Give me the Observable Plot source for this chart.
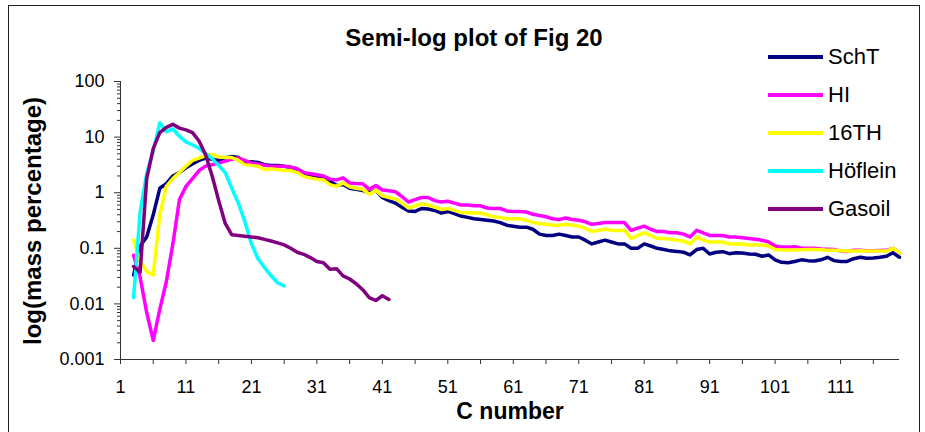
<!DOCTYPE html>
<html>
<head>
<meta charset="utf-8">
<script src="https://cdn.jsdelivr.net/npm/d3@7"></script>
<script src="https://cdn.jsdelivr.net/npm/@observablehq/plot@0.6"></script>
<style>
  html, body { margin: 0; padding: 0; background: #fff; }
  #wrap { position: relative; width: 925px; height: 432px; overflow: hidden; background: #fff;
          font-family: "Liberation Sans", Arial, sans-serif; color: #000; }
  #frame { position: absolute; left: 8px; top: 5px; width: 912px; height: 460px; border: 1px solid #222; box-sizing: border-box; }
  #chart { position: absolute; left: 0; top: 0; }
  .abs { position: absolute; white-space: nowrap; line-height: 1; }
  #title { left: 474px; top: 38px; transform: translate(-50%, -50%); font-weight: bold; font-size: 24px; }
  #ytitle { left: 33px; top: 221px; transform: translate(-50%, -50%) rotate(-90deg); font-weight: bold; font-size: 24px; }
  #xtitle { left: 510px; top: 411px; transform: translate(-50%, -50%); font-weight: bold; font-size: 23px; }
  .leg { position: absolute; left: 768px; height: 30px; display: flex; align-items: center; }
  .leg .sw { width: 55px; height: 3.5px; margin-right: 5px; }
  .leg .lb { font-size: 22px; line-height: 1; }
</style>
</head>
<body>
<div id="wrap">
  <div id="frame"></div>
  <div id="chart"></div>
  <div id="title" class="abs">Semi-log plot of Fig 20</div>
  <div id="ytitle" class="abs">log(mass percentage)</div>
  <div id="xtitle" class="abs">C number</div>
  <div id="legend"></div>
</div>
<script>
// ---- data (C number starts at 3 for every series) ----
const firstC = 3;
const seriesNames = ["SchT", "HI", "16TH", "Höflein", "Gasoil"];
const seriesColors = ["#000080", "#ff00ff", "#ffff00", "#00ffff", "#800080"];

const schT = [
  0.033, 0.11, 0.16, 0.4, 1.2, 1.45, 2.0, 2.3, 2.8, 3.3, 3.8, 4.2, 4.0, 3.8, 4.2, 4.5, 4.3, 3.5, 3.6, 3.5,
  3.2, 3.1, 3.1, 3.0, 2.8, 2.6, 2.2, 2.0, 1.9, 1.85, 1.6, 1.35, 1.4, 1.2, 1.15, 1.1, 0.98, 1.1, 0.82, 0.72,
  0.65, 0.55, 0.47, 0.46, 0.52, 0.51, 0.48, 0.43, 0.46, 0.42, 0.38, 0.36, 0.34, 0.33, 0.32, 0.31, 0.29, 0.26, 0.25, 0.24,
  0.24, 0.22, 0.18, 0.17, 0.17, 0.18, 0.17, 0.16, 0.16, 0.14, 0.12, 0.13, 0.14, 0.13, 0.12, 0.12, 0.1, 0.1, 0.12, 0.11,
  0.1, 0.095, 0.09, 0.088, 0.085, 0.076, 0.095, 0.1, 0.079, 0.085, 0.087, 0.08, 0.083, 0.082, 0.079, 0.078, 0.072, 0.076, 0.062, 0.056,
  0.055, 0.058, 0.062, 0.06, 0.059, 0.062, 0.069, 0.06, 0.058, 0.058, 0.065, 0.069, 0.066, 0.067, 0.069, 0.072, 0.083, 0.069
];
const hI = [
  0.075, 0.03, 0.007, 0.0022, 0.008, 0.025, 0.12, 0.75, 1.3, 1.8, 2.5, 3.0, 3.2, 3.4, 3.7, 4.0, 4.2, 3.8, 3.4, 3.3,
  3.1, 3.0, 3.0, 3.0, 2.9, 2.7, 2.3, 2.2, 2.1, 2.0, 1.75, 1.7, 1.85, 1.5, 1.47, 1.45, 1.15, 1.35, 1.12, 1.08,
  1.04, 0.85, 0.68, 0.75, 0.82, 0.82, 0.72, 0.68, 0.7, 0.65, 0.6, 0.6, 0.58, 0.58, 0.53, 0.52, 0.52, 0.47, 0.46, 0.46,
  0.45, 0.41, 0.39, 0.37, 0.34, 0.33, 0.35, 0.33, 0.32, 0.3, 0.27, 0.28, 0.29, 0.29, 0.29, 0.29, 0.21, 0.23, 0.25, 0.22,
  0.2, 0.2, 0.19, 0.19, 0.18, 0.16, 0.21, 0.19, 0.17, 0.17, 0.17, 0.16, 0.16, 0.155, 0.15, 0.145, 0.14, 0.13, 0.11, 0.105,
  0.105, 0.107, 0.1, 0.1, 0.1, 0.097, 0.096, 0.095, 0.089, 0.088, 0.092, 0.092, 0.09, 0.09, 0.091, 0.092, 0.1, 0.083
];
const th16 = [
  0.14, 0.06, 0.038, 0.033, 0.4, 1.3, 1.8, 2.3, 3.0, 3.8, 4.2, 4.6, 4.9, 4.4, 4.3, 4.3, 3.8, 3.2, 3.1, 3.0,
  2.6, 2.7, 2.6, 2.5, 2.5, 2.3, 1.95, 1.85, 1.75, 1.7, 1.4, 1.3, 1.5, 1.28, 1.2, 1.15, 0.94, 1.1, 0.88, 0.82,
  0.78, 0.65, 0.53, 0.58, 0.63, 0.6, 0.55, 0.5, 0.52, 0.48, 0.44, 0.44, 0.43, 0.43, 0.4, 0.37, 0.36, 0.34, 0.34, 0.34,
  0.32, 0.29, 0.28, 0.27, 0.26, 0.26, 0.27, 0.26, 0.25, 0.23, 0.2, 0.21, 0.22, 0.21, 0.21, 0.21, 0.15, 0.17, 0.19, 0.17,
  0.15, 0.15, 0.145, 0.14, 0.135, 0.12, 0.16, 0.14, 0.13, 0.13, 0.13, 0.12, 0.12, 0.12, 0.115, 0.115, 0.115, 0.11, 0.095, 0.093,
  0.093, 0.093, 0.094, 0.095, 0.095, 0.094, 0.092, 0.092, 0.09, 0.089, 0.089, 0.09, 0.089, 0.089, 0.089, 0.089, 0.1, 0.083
];
const hoeflein = [
  0.013, 0.45, 2.2, 5.6, 18, 12.5, 14, 10.3, 8.2, 7.2, 6.3, 5.1, 4.1, 3.1, 2.3, 1.2, 0.65, 0.3, 0.12, 0.065,
  0.045, 0.032, 0.024, 0.021
];
const gasoil = [
  0.047, 0.037, 1.8, 6.2, 12, 15, 17, 14.5, 13.5, 12, 8.5, 4.8, 2.0, 0.72, 0.28, 0.175, 0.17, 0.165, 0.16, 0.155,
  0.145, 0.135, 0.125, 0.115, 0.1, 0.085, 0.078, 0.068, 0.058, 0.055, 0.042, 0.043, 0.032, 0.028, 0.023, 0.018, 0.013, 0.0115, 0.014, 0.012
];
const seriesValues = [schT, hI, th16, hoeflein, gasoil];

// axis ticks
const xTickLabels = [1, 11, 21, 31, 41, 51, 61, 71, 81, 91, 101, 111];
const xTickMarks = [1, 6, 11, 16, 21, 26, 31, 36, 41, 46, 51, 56, 61, 66, 71, 76, 81, 86, 91, 96, 101, 106, 111, 116];
const yDecades = [0.001, 0.01, 0.1, 1, 10, 100];
const yDecadeLabels = ["0.001", "0.01", "0.1", "1", "10", "100"];

// ---- build ----
const rows = [];
seriesNames.forEach((name, s) => {
  seriesValues[s].forEach((v, i) => rows.push({series: name, c: firstC + i, v}));
});
const yMinor = [];
for (let k = 0; k < yDecades.length - 1; k++) {
  for (let m = 2; m <= 9; m++) yMinor.push(+(yDecades[k] * m).toPrecision(3));
}
const axisColor = "#333";

const chart = Plot.plot({
  width: 925,
  height: 432,
  marginLeft: 120,
  marginRight: 26,
  marginTop: 81,
  marginBottom: 73,
  style: {fontFamily: "'Liberation Sans', Arial, sans-serif", fontSize: "18px", background: "transparent", color: "#000"},
  x: {domain: [1, 120]},
  y: {type: "log", domain: [0.001, 100]},
  color: {domain: seriesNames, range: seriesColors},
  marks: [
    Plot.axisY({ticks: yMinor, tickSize: 3, tickFormat: () => "", stroke: axisColor, label: null}),
    Plot.axisY({ticks: yDecades, tickSize: 6, tickPadding: 10, stroke: axisColor, label: null,
      tickFormat: d => yDecadeLabels[yDecades.indexOf(d)], fontSize: 18}),
    Plot.axisX({ticks: xTickMarks, tickSize: 5, tickFormat: () => "", stroke: axisColor, label: null}),
    Plot.axisX({ticks: xTickLabels, tickSize: 0, tickPadding: 21, tickFormat: d => String(d), fontSize: 18, label: null}),
    Plot.ruleX([1], {stroke: axisColor, strokeWidth: 1}),
    Plot.ruleY([0.001], {stroke: axisColor, strokeWidth: 1}),
    Plot.line(rows, {x: "c", y: "v", z: "series", stroke: "series", strokeWidth: 3.5,
      strokeLinejoin: "round", strokeLinecap: "round"})
  ]
});
document.getElementById("chart").appendChild(chart);

// legend
const legend = document.getElementById("legend");
const legendY = [57, 95, 133, 171, 209];
seriesNames.forEach((name, i) => {
  const row = document.createElement("div");
  row.className = "leg";
  row.style.top = (legendY[i] - 15) + "px";
  row.innerHTML = `<div class="sw" style="background:${seriesColors[i]}"></div><div class="lb">${name}</div>`;
  legend.appendChild(row);
});
</script>
</body>
</html>
